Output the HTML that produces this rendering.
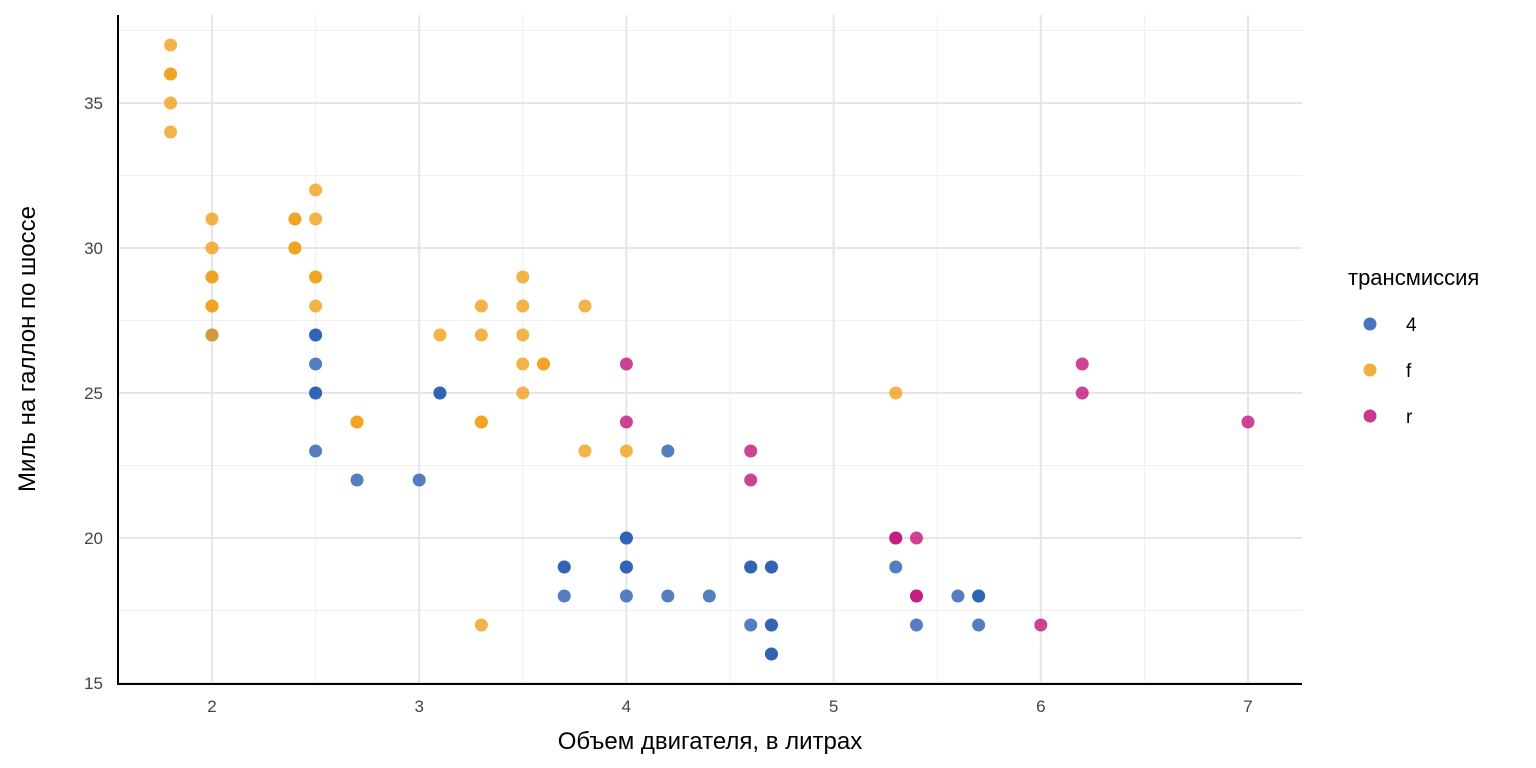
<!DOCTYPE html>
<html><head><meta charset="utf-8"><style>body{margin:0;background:#fff}svg{display:block}</style></head><body>
<svg width="1536" height="768" xmlns="http://www.w3.org/2000/svg" font-family="'Liberation Sans Narrow', 'Liberation Sans', sans-serif">
<g id="grid"></g>
<line x1="118" y1="15" x2="118" y2="684" stroke="#000" stroke-width="2"/>
<line x1="117" y1="684" x2="1302" y2="684" stroke="#000" stroke-width="2"/>
<g id="pts"></g>
<g id="lab" font-size="17" fill="#444"></g>
<text x="710" y="749" font-size="24" text-anchor="middle" fill="#000">Объем двигателя, в литрах</text>
<text transform="translate(35,349) rotate(-90)" font-size="24" text-anchor="middle" fill="#000">Миль на галлон по шоссе</text>
<text x="1348" y="285" font-size="22" fill="#000">трансмиссия</text>
<circle cx="1370" cy="324" r="6.5" fill="#2a5db0" fill-opacity="0.85"/>
<circle cx="1370" cy="370" r="6.5" fill="#f0a01a" fill-opacity="0.85"/>
<circle cx="1370" cy="416" r="6.5" fill="#c0157a" fill-opacity="0.85"/>
<text x="1406" y="331" font-size="19" fill="#000">4</text>
<text x="1406" y="377" font-size="19" fill="#000">f</text>
<text x="1406" y="423" font-size="19" fill="#000">r</text>
<script>
const X=v=>212+(v-2)*207.2, Y=v=>683-(v-15)*29;
const ns="http://www.w3.org/2000/svg";
function el(p,t,a){const e=document.createElementNS(ns,t);for(const k in a)e.setAttribute(k,a[k]);p.appendChild(e);return e;}
const g=document.getElementById('grid');
for(let v=2.5;v<7;v+=1)el(g,'line',{x1:X(v),x2:X(v),y1:15,y2:683,stroke:'#efefef','stroke-width':1});
for(let v=17.5;v<=37.5;v+=5)el(g,'line',{x1:118,x2:1302,y1:Y(v),y2:Y(v),stroke:'#efefef','stroke-width':1});
for(let v=2;v<=7;v++)el(g,'line',{x1:X(v),x2:X(v),y1:15,y2:683,stroke:'#e6e6e6','stroke-width':2});
for(let v=15;v<=35;v+=5)el(g,'line',{x1:118,x2:1302,y1:Y(v),y2:Y(v),stroke:'#e6e6e6','stroke-width':2});
const L=document.getElementById('lab');
for(let v=2;v<=7;v++){const t=el(L,'text',{x:X(v),y:712,'text-anchor':'middle'});t.textContent=v;}
for(let v=15;v<=35;v+=5){const t=el(L,'text',{x:103,y:Y(v)+6,'text-anchor':'end'});t.textContent=v;}
const f=[[1.8,37],[1.8,36],[1.8,35],[1.8,34],[2,31],[2,30],[2,29],[2,28],[2,27],[2.4,31],[2.4,30],[2.5,32],[2.5,31],[2.5,29],[2.5,28],[2.7,24],[3.1,27],[3.3,28],[3.3,27],[3.3,24],[3.3,17],[3.5,29],[3.5,28],[3.5,27],[3.5,26],[3.5,25],[3.6,26],[3.8,28],[3.8,23],[4,23],[5.3,25],
[1.8,36],[2,29],[2,28],[2.4,31],[2.4,30],[2.5,29],[2.7,24],[3.3,24],[3.6,26]];
const b=[[2,27],[2.5,27],[2.5,26],[2.5,25],[2.5,23],[2.7,22],[3,22],[3.1,25],[3.7,19],[3.7,18],[4,20],[4,19],[4,18],[4.2,23],[4.2,18],[4.4,18],[4.6,19],[4.6,17],[4.7,19],[4.7,17],[4.7,16],[5.3,19],[5.4,17],[5.6,18],[5.7,18],[5.7,17],
[2.5,27],[2.5,25],[3.1,25],[3.7,19],[4,20],[4,19],[4.6,19],[4.7,19],[4.7,17],[4.7,16],[5.7,18]];
const r=[[4,26],[4,24],[4.6,23],[4.6,22],[5.3,20],[5.4,20],[5.4,18],[6,17],[6.2,26],[6.2,25],[7,24],[5.3,20],[5.4,18]];
const P=document.getElementById('pts');
[[b,'#2a5db0'],[f,'#f0a01a'],[r,'#c0157a']].forEach(([a,c])=>a.forEach(([x,y])=>el(P,'circle',{cx:X(x),cy:Y(y),r:6.5,fill:c,'fill-opacity':0.8})));
</script>
</svg>
</body></html>
